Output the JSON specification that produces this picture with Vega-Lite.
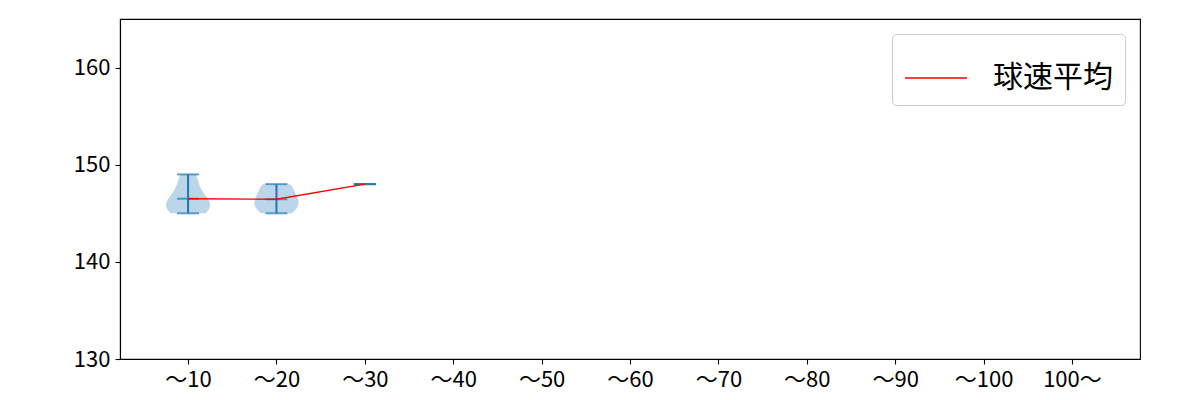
{
  "$schema": "https://vega.github.io/schema/vega-lite/v6.json",
  "width": 1020,
  "height": 340,
  "autosize": "none",
  "padding": {"left": 120, "top": 19, "right": 60, "bottom": 41},
  "config": {
    "font": "Noto Sans CJK JP",
    "view": {"stroke": "black", "strokeWidth": 1.1},
    "axis": {
      "grid": false,
      "title": null,
      "domainColor": "black",
      "domainWidth": 1.1,
      "tickColor": "black",
      "tickWidth": 1.1,
      "tickSize": 5,
      "labelPadding": 5,
      "labelColor": "black",
      "labelFont": "Noto Sans CJK JP",
      "labelFontSize": 22
    },
    "legend": {
      "orient": "top-right",
      "offset": 15,
      "padding": 12,
      "labelFont": "Noto Sans CJK JP",
      "labelFontSize": 30,
      "labelColor": "black",
      "labelOffset": 25,
      "symbolType": "stroke",
      "symbolSize": 3844,
      "symbolStrokeWidth": 1.4,
      "strokeColor": "#cccccc",
      "fillColor": "white",
      "cornerRadius": 4
    }
  },
  "data": {
    "values": [
      {"group": "～10", "i": 1, "speed": 145},
      {"group": "～10", "i": 1, "speed": 145},
      {"group": "～10", "i": 1, "speed": 146},
      {"group": "～10", "i": 1, "speed": 146},
      {"group": "～10", "i": 1, "speed": 146},
      {"group": "～10", "i": 1, "speed": 147},
      {"group": "～10", "i": 1, "speed": 148},
      {"group": "～10", "i": 1, "speed": 149},
      {"group": "～20", "i": 2, "speed": 145},
      {"group": "～20", "i": 2, "speed": 145},
      {"group": "～20", "i": 2, "speed": 146},
      {"group": "～20", "i": 2, "speed": 146},
      {"group": "～20", "i": 2, "speed": 146},
      {"group": "～20", "i": 2, "speed": 147},
      {"group": "～20", "i": 2, "speed": 147},
      {"group": "～20", "i": 2, "speed": 148},
      {"group": "～20", "i": 2, "speed": 148},
      {"group": "～30", "i": 3, "speed": 148}
    ]
  },
  "layer": [
    {
      "transform": [
        {"filter": "datum.i == 1"},
        {"density": "speed", "groupby": ["i"], "bandwidth": 0.933, "steps": 100},
        {"joinaggregate": [{"op": "max", "field": "density", "as": "dmax"}], "groupby": ["i"]},
        {"calculate": "datum.i - 0.25 * datum.density / datum.dmax", "as": "lo"},
        {"calculate": "datum.i + 0.25 * datum.density / datum.dmax", "as": "hi"}
      ],
      "mark": {"type": "area", "orient": "horizontal", "color": "#1f77b4", "fillOpacity": 0.3},
      "encoding": {
        "y": {
          "field": "value",
          "type": "quantitative",
          "scale": {"domain": [130, 165], "nice": false, "zero": false},
          "axis": {"values": [130, 140, 150, 160]}
        },
        "x": {
          "field": "lo",
          "type": "quantitative",
          "scale": {"domain": [0.23, 11.77], "nice": false, "zero": false},
          "axis": {
            "values": [1, 2, 3, 4, 5, 6, 7, 8, 9, 10, 11],
            "labelExpr": "['～10','～20','～30','～40','～50','～60','～70','～80','～90','～100','100～'][datum.value - 1]"
          }
        },
        "x2": {"field": "hi"},
        "detail": {"field": "i"}
      }
    },
    {
      "transform": [
        {"filter": "datum.i == 2"},
        {"density": "speed", "groupby": ["i"], "bandwidth": 0.728, "steps": 100},
        {"joinaggregate": [{"op": "max", "field": "density", "as": "dmax"}], "groupby": ["i"]},
        {"calculate": "datum.i - 0.25 * datum.density / datum.dmax", "as": "lo"},
        {"calculate": "datum.i + 0.25 * datum.density / datum.dmax", "as": "hi"}
      ],
      "mark": {"type": "area", "orient": "horizontal", "color": "#1f77b4", "fillOpacity": 0.3},
      "encoding": {
        "y": {"field": "value", "type": "quantitative"},
        "x": {"field": "lo", "type": "quantitative"},
        "x2": {"field": "hi"},
        "detail": {"field": "i"}
      }
    },
    {
      "transform": [
        {"aggregate": [
          {"op": "min", "field": "speed", "as": "mn"},
          {"op": "max", "field": "speed", "as": "mx"}
        ], "groupby": ["i"]}
      ],
      "mark": {"type": "rule", "color": "#1f77b4", "strokeWidth": 2},
      "encoding": {
        "x": {"field": "i", "type": "quantitative"},
        "y": {"field": "mn", "type": "quantitative"},
        "y2": {"field": "mx"}
      }
    },
    {
      "transform": [
        {"aggregate": [
          {"op": "min", "field": "speed", "as": "mn"},
          {"op": "max", "field": "speed", "as": "mx"},
          {"op": "mean", "field": "speed", "as": "avg"}
        ], "groupby": ["i"]},
        {"fold": ["mn", "mx", "avg"], "as": ["stat", "v"]}
      ],
      "mark": {"type": "tick", "orient": "horizontal", "size": 22, "thickness": 2, "color": "#1f77b4"},
      "encoding": {
        "x": {"field": "i", "type": "quantitative"},
        "y": {"field": "v", "type": "quantitative"}
      }
    },
    {
      "transform": [
        {"aggregate": [{"op": "mean", "field": "speed", "as": "avg"}], "groupby": ["i"]}
      ],
      "mark": {"type": "line", "strokeWidth": 1.4},
      "encoding": {
        "x": {"field": "i", "type": "quantitative"},
        "y": {"field": "avg", "type": "quantitative"},
        "color": {
          "datum": "球速平均",
          "type": "nominal",
          "scale": {"range": ["red"]},
          "legend": {"title": null}
        }
      }
    }
  ]
}
